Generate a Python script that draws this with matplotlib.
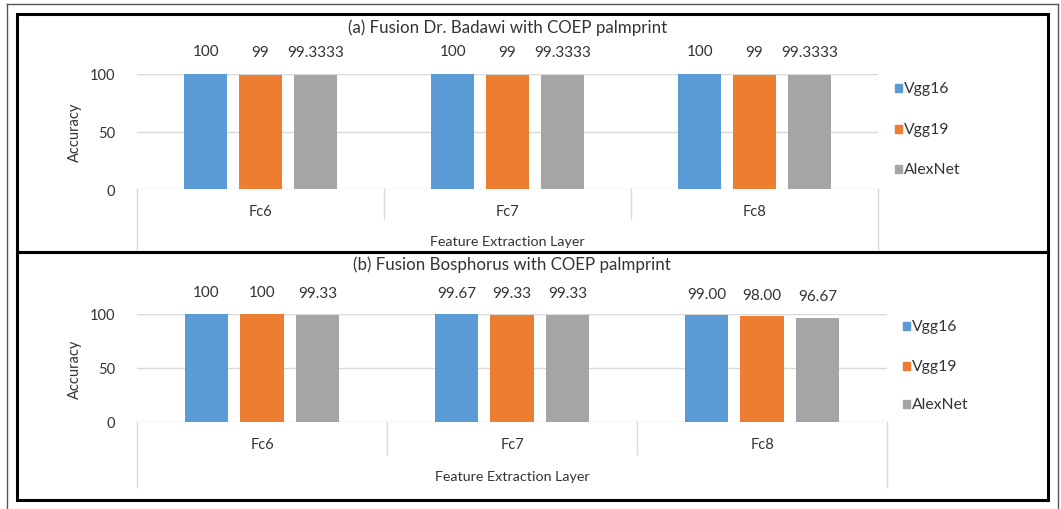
import matplotlib
matplotlib.use("Agg")
import matplotlib.pyplot as plt
from matplotlib.patches import Rectangle
from matplotlib.lines import Line2D
import matplotlib.transforms as mtransforms

plt.rcParams['font.family'] = ['Lato', 'DejaVu Sans']

categories = ["Fc6", "Fc7", "Fc8"]
series = ["Vgg16", "Vgg19", "AlexNet"]
colors = ["#5B9BD5", "#ED7D31", "#A5A5A5"]

title_a = "(a) Fusion Dr. Badawi with COEP palmprint"
vgg16_a = [100, 100, 100]
vgg19_a = [99, 99, 99]
alex_a = [99.3333, 99.3333, 99.3333]
labels_a = [["100", "100", "100"], ["99", "99", "99"], ["99.3333", "99.3333", "99.3333"]]

title_b = "(b) Fusion Bosphorus with COEP palmprint"
vgg16_b = [100, 99.67, 99.00]
vgg19_b = [100, 99.33, 98.00]
alex_b = [99.33, 99.33, 96.67]
labels_b = [["100", "99.67", "99.00"], ["100", "99.33", "98.00"], ["99.33", "99.33", "96.67"]]

yticks = [0, 50, 100]

W, H = 1061, 510
fig = plt.figure(figsize=(W / 100, H / 100), dpi=100)
TXT = "#333333"


def px_rect(x0, y0, x1, y1):
    return [x0 / W, 1 - y1 / H, (x1 - x0) / W, (y1 - y0) / H]


# outer thin border
fig.add_artist(Line2D([7 / W, 7 / W], [0, 1 - 5 / H], transform=fig.transFigure, color="#555555", lw=1))
fig.add_artist(Line2D([7 / W, 1058 / W], [1 - 5 / H, 1 - 5 / H], transform=fig.transFigure, color="#555555", lw=1))
fig.add_artist(Line2D([1058 / W, 1058 / W], [0, 1 - 5 / H], transform=fig.transFigure, color="#555555", lw=1))

# panel thick borders
for (y0, y1) in [(15, 253), (253, 501)]:
    fig.add_artist(Rectangle((17 / W, 1 - y1 / H), (1048 - 17) / W, (y1 - y0) / H,
                             transform=fig.transFigure, fill=False, ec="black", lw=2.2))


def panel(title, vals, labels, ax_px, sep_bottom, outer_bottom, leg_x, leg_ys, title_y, fel_y, lab_off):
    x0, y100, x1, y0 = ax_px
    ax = fig.add_axes(px_rect(x0, y100, x1, y0))
    ax.set_xlim(0, 3)
    ax.set_ylim(0, 100)
    for s in ax.spines.values():
        s.set_visible(False)
    ax.set_yticks(yticks)
    ax.tick_params(axis='y', length=0, labelsize=10.5, colors=TXT, pad=16)
    ax.set_xticks([])
    for yv in yticks:
        ax.axhline(yv, color="#D9D9D9", lw=1, zorder=0)
    width = 0.174
    step = 0.222
    for i, (vs, labs) in enumerate(zip(vals, labels)):
        xs = [c + 0.5 + (i - 1) * step for c in range(3)]
        ax.bar(xs, vs, width=width, color=colors[i], zorder=2, label=series[i])
        for x, v, lab in zip(xs, vs, labs):
            ax.annotate(lab, xy=(x, v), xytext=(0, lab_off), textcoords='offset points',
                        ha='center', va='center', fontsize=11, color=TXT)
    ax.set_ylabel("Accuracy", fontsize=10.5, color=TXT)
    ax.yaxis.set_label_coords(-(x0 - 82) / (x1 - x0), 0.5)
    h = y0 - y100
    trans = mtransforms.blended_transform_factory(ax.transData, ax.transAxes)
    for xc in [1, 2]:
        ax.add_line(Line2D([xc, xc], [0, -(sep_bottom - y0) / h], transform=trans,
                           color="#D9D9D9", lw=1, clip_on=False))
    for xc in [0, 3]:
        ax.add_line(Line2D([xc, xc], [0, -(outer_bottom - y0) / h], transform=trans,
                           color="#D9D9D9", lw=1, clip_on=False))
    for c, cat in enumerate(categories):
        ax.text(c + 0.5, -(22) / h, cat, transform=trans, ha='center', va='center',
                fontsize=10.5, color=TXT)
    ax.text(1.5, -(fel_y - y0) / h, "Feature Extraction Layer", transform=trans,
            ha='center', va='center', fontsize=10.3, color=TXT)
    fig.text(((x0 + x1) / 2) / W, 1 - title_y / H, title, ha='center', va='center',
             fontsize=12.2, color=TXT)
    # legend
    for i, ly in enumerate(leg_ys):
        fig.add_artist(Rectangle(((leg_x) / W, 1 - (ly + 4) / H), 7 / W, 8 / H,
                                 transform=fig.transFigure, color=colors[i]))
        fig.text((leg_x + 9) / W, 1 - ly / H, series[i], ha='left', va='center',
                 fontsize=11.3, color=TXT)
    return ax


panel(title_a, [vgg16_a, vgg19_a, alex_a], labels_a,
      (137, 75, 878, 190), 220, 250, 895, [89, 130, 170], 28, 242, 16.5)
panel(title_b, [vgg16_b, vgg19_b, alex_b], labels_b,
      (137, 315, 887, 423), 455, 488, 903, [327, 367, 405], 265, 477, 15.5)

fig.savefig("out.png", dpi=100)
